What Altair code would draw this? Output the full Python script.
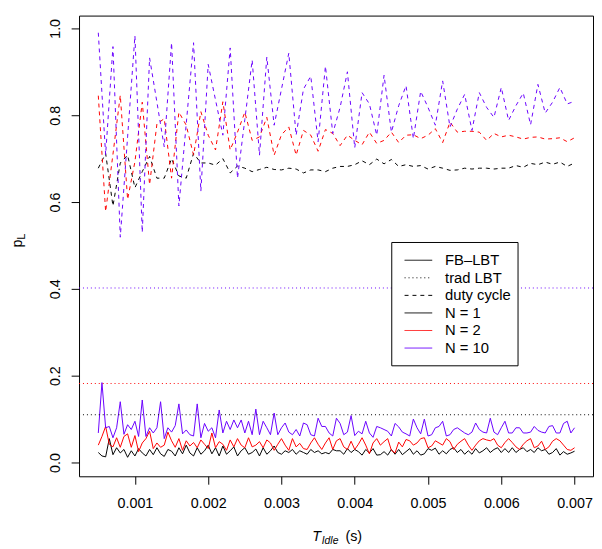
import altair as alt
import pandas as pd

# ---------------- data ----------------
# duty-cycle curves, sampled every 0.1 ms (values in microseconds)
T_DC_US = [500, 600, 700, 800, 900, 1000, 1100, 1200, 1300, 1400,
           1500, 1600, 1700, 1800, 1900, 2000, 2100, 2200, 2300, 2400,
           2500, 2600, 2700, 2800, 2900, 3000, 3100, 3200, 3300, 3400,
           3500, 3600, 3700, 3800, 3900, 4000, 4100, 4200, 4300, 4400,
           4500, 4600, 4700, 4800, 4900, 5000, 5100, 5200, 5300, 5400,
           5500, 5600, 5700, 5800, 5900, 6000, 6100, 6200, 6300, 6400,
           6500, 6600, 6700, 6800, 6900, 7000]

DC_N1 = [0.678, 0.712, 0.591, 0.690, 0.708, 0.633, 0.670, 0.705, 0.655, 0.655,
         0.700, 0.660, 0.655, 0.712, 0.690, 0.690, 0.685, 0.700, 0.667, 0.683,
         0.678, 0.670, 0.675, 0.680, 0.675, 0.674, 0.678, 0.676, 0.667, 0.674,
         0.674, 0.670, 0.678, 0.682, 0.682, 0.686, 0.695, 0.686, 0.699, 0.688,
         0.698, 0.682, 0.686, 0.682, 0.684, 0.676, 0.682, 0.678, 0.673, 0.674,
         0.678, 0.676, 0.678, 0.678, 0.676, 0.678, 0.678, 0.684, 0.680, 0.689,
         0.686, 0.692, 0.687, 0.692, 0.682, 0.690]

DC_N2 = [0.845, 0.578, 0.710, 0.846, 0.606, 0.693, 0.830, 0.640, 0.780, 0.792,
         0.655, 0.807, 0.777, 0.708, 0.808, 0.754, 0.720, 0.831, 0.720, 0.761,
         0.807, 0.742, 0.750, 0.795, 0.708, 0.755, 0.773, 0.708, 0.765, 0.754,
         0.717, 0.767, 0.758, 0.730, 0.754, 0.742, 0.732, 0.761, 0.735, 0.742,
         0.761, 0.737, 0.754, 0.755, 0.746, 0.754, 0.769, 0.737, 0.784, 0.761,
         0.763, 0.763, 0.761, 0.742, 0.758, 0.750, 0.754, 0.750, 0.745, 0.749,
         0.750, 0.745, 0.746, 0.748, 0.739, 0.748]

DC_N10 = [0.990, 0.709, 0.958, 0.519, 0.750, 0.983, 0.530, 0.932, 0.830, 0.727,
          0.967, 0.591, 0.780, 0.967, 0.625, 0.917, 0.835, 0.754, 0.955, 0.655,
          0.790, 0.927, 0.708, 0.934, 0.777, 0.860, 0.943, 0.754, 0.860, 0.890,
          0.739, 0.913, 0.758, 0.818, 0.900, 0.725, 0.852, 0.826, 0.754, 0.892,
          0.761, 0.822, 0.868, 0.746, 0.855, 0.818, 0.777, 0.879, 0.773, 0.814,
          0.848, 0.765, 0.852, 0.818, 0.795, 0.864, 0.788, 0.822, 0.851, 0.778,
          0.871, 0.805, 0.830, 0.864, 0.826, 0.832]

# FB-LBT curves, sampled every 0.05 ms (values in microseconds)
T_FB_US = [500, 550, 600, 650, 700, 750, 800, 850, 900, 950,
           1000, 1050, 1100, 1150, 1200, 1250, 1300, 1350, 1400, 1450,
           1500, 1550, 1600, 1650, 1700, 1750, 1800, 1850, 1900, 1950,
           2000, 2050, 2100, 2150, 2200, 2250, 2300, 2350, 2400, 2450,
           2500, 2550, 2600, 2650, 2700, 2750, 2800, 2850, 2900, 2950,
           3000, 3050, 3100, 3150, 3200, 3250, 3300, 3350, 3400, 3450,
           3500, 3550, 3600, 3650, 3700, 3750, 3800, 3850, 3900, 3950,
           4000, 4050, 4100, 4150, 4200, 4250, 4300, 4350, 4400, 4450,
           4500, 4550, 4600, 4650, 4700, 4750, 4800, 4850, 4900, 4950,
           5000, 5050, 5100, 5150, 5200, 5250, 5300, 5350, 5400, 5450,
           5500, 5550, 5600, 5650, 5700, 5750, 5800, 5850, 5900, 5950,
           6000, 6050, 6100, 6150, 6200, 6250, 6300, 6350, 6400, 6450,
           6500, 6550, 6600, 6650, 6700, 6750, 6800, 6850, 6900, 6950,
           7000]

FB_N1 = [0.023, 0.015, 0.013, 0.055, 0.018, 0.034, 0.022, 0.030, 0.012, 0.027,
         0.015, 0.032, 0.022, 0.015, 0.030, 0.018, 0.034, 0.020, 0.014, 0.030,
         0.026, 0.015, 0.034, 0.020, 0.040, 0.022, 0.015, 0.034, 0.019, 0.027,
         0.040, 0.020, 0.034, 0.015, 0.038, 0.019, 0.027, 0.036, 0.015, 0.027,
         0.034, 0.019, 0.023, 0.031, 0.015, 0.034, 0.019, 0.027, 0.038, 0.023,
         0.019, 0.027, 0.023, 0.030, 0.019, 0.027, 0.023, 0.019, 0.030, 0.023,
         0.027, 0.020, 0.023, 0.020, 0.030, 0.027, 0.027, 0.019, 0.032, 0.023,
         0.030, 0.025, 0.017, 0.030, 0.022, 0.032, 0.017, 0.018, 0.025, 0.017,
         0.030, 0.019, 0.030, 0.018, 0.025, 0.032, 0.019, 0.027, 0.017, 0.020,
         0.032, 0.028, 0.033, 0.019, 0.027, 0.020, 0.030, 0.034, 0.023, 0.030,
         0.019, 0.027, 0.019, 0.032, 0.022, 0.027, 0.034, 0.023, 0.030, 0.034,
         0.023, 0.032, 0.023, 0.034, 0.023, 0.030, 0.034, 0.025, 0.030, 0.023,
         0.034, 0.027, 0.030, 0.019, 0.023, 0.032, 0.017, 0.025, 0.019, 0.022,
         0.026]

FB_N2 = [0.040, 0.060, 0.083, 0.042, 0.036, 0.057, 0.035, 0.060, 0.066, 0.035,
         0.062, 0.025, 0.045, 0.055, 0.072, 0.032, 0.045, 0.035, 0.040, 0.070,
         0.050, 0.035, 0.055, 0.028, 0.050, 0.038, 0.046, 0.034, 0.052, 0.042,
         0.032, 0.068, 0.034, 0.048, 0.042, 0.028, 0.052, 0.036, 0.055, 0.040,
         0.034, 0.057, 0.036, 0.040, 0.048, 0.034, 0.052, 0.045, 0.028, 0.042,
         0.055, 0.040, 0.028, 0.055, 0.036, 0.044, 0.032, 0.030, 0.045, 0.057,
         0.042, 0.030, 0.045, 0.057, 0.030, 0.050, 0.055, 0.036, 0.030, 0.049,
         0.030, 0.042, 0.057, 0.040, 0.020, 0.045, 0.055, 0.040, 0.048, 0.055,
         0.028, 0.022, 0.047, 0.036, 0.053, 0.050, 0.040, 0.045, 0.055, 0.057,
         0.034, 0.038, 0.050, 0.045, 0.040, 0.055, 0.048, 0.030, 0.042, 0.049,
         0.055, 0.040, 0.028, 0.040, 0.050, 0.055, 0.052, 0.050, 0.055, 0.040,
         0.034, 0.046, 0.055, 0.046, 0.036, 0.030, 0.042, 0.050, 0.055, 0.034,
         0.038, 0.049, 0.030, 0.036, 0.049, 0.055, 0.050, 0.040, 0.030, 0.028,
         0.034]

FB_N10 = [0.068, 0.184, 0.080, 0.083, 0.057, 0.080, 0.140, 0.065, 0.087, 0.076,
          0.095, 0.060, 0.144, 0.060, 0.080, 0.068, 0.080, 0.140, 0.055, 0.080,
          0.070, 0.085, 0.135, 0.066, 0.075, 0.064, 0.061, 0.135, 0.057, 0.090,
          0.072, 0.080, 0.057, 0.121, 0.068, 0.095, 0.076, 0.098, 0.080, 0.098,
          0.068, 0.095, 0.064, 0.123, 0.064, 0.095, 0.080, 0.064, 0.114, 0.064,
          0.080, 0.091, 0.070, 0.064, 0.076, 0.061, 0.091, 0.087, 0.064, 0.061,
          0.102, 0.083, 0.083, 0.068, 0.061, 0.102, 0.090, 0.064, 0.070, 0.108,
          0.062, 0.072, 0.066, 0.095, 0.068, 0.058, 0.083, 0.080, 0.076, 0.072,
          0.061, 0.090, 0.082, 0.070, 0.066, 0.061, 0.100, 0.080, 0.066, 0.100,
          0.061, 0.064, 0.080, 0.083, 0.095, 0.061, 0.064, 0.076, 0.080, 0.074,
          0.068, 0.064, 0.070, 0.091, 0.076, 0.070, 0.068, 0.102, 0.070, 0.064,
          0.080, 0.095, 0.068, 0.068, 0.080, 0.080, 0.068, 0.068, 0.070, 0.083,
          0.074, 0.070, 0.068, 0.083, 0.085, 0.068, 0.068, 0.090, 0.095, 0.068,
          0.080]

# traditional LBT (constant) for N = 1, 2, 10
TRAD = [0.110, 0.182, 0.402]

N_KEYS = ["1", "2", "10"]
COLORS = ["#000000", "#FF0000", "#6A00FF"]

X_TICKS = [0.001, 0.002, 0.003, 0.004, 0.005, 0.006, 0.007]
Y_TICKS = [0.0, 0.2, 0.4, 0.6, 0.8, 1.0]

LEGEND_LABELS = ["FB\u2013LBT", "trad LBT", "duty cycle", "N = 1", "N = 2", "N = 10"]
LEGEND_COLORS = ["#000000", "#000000", "#000000", "#000000", "#FF0000", "#6A00FF"]
LEGEND_DASH = [[1, 0], [1, 3], [4, 4], [1, 0], [1, 0], [1, 0]]

# ---------------- tables ----------------
fb_rows, dc_rows = [], []
for key, ys in zip(N_KEYS, [FB_N1, FB_N2, FB_N10]):
    for t, v in zip(T_FB_US, ys):
        fb_rows.append({"t": t / 1e6, "p": v, "N": key})
for key, ys in zip(N_KEYS, [DC_N1, DC_N2, DC_N10]):
    for t, v in zip(T_DC_US, ys):
        dc_rows.append({"t": t / 1e6, "p": v, "N": key})
fb_df = pd.DataFrame(fb_rows)
dc_df = pd.DataFrame(dc_rows)
trad_df = pd.DataFrame({"p": TRAD, "N": N_KEYS})

FONT = "Liberation Sans"
FS = 14.5

xscale = alt.Scale(domain=[0.000237, 0.007252], nice=False, zero=False)
yscale = alt.Scale(domain=[-0.0318, 1.0295], nice=False, zero=False)
cscale = alt.Scale(domain=N_KEYS, range=COLORS)

xaxis = alt.Axis(values=X_TICKS, format=".3f", title=None, grid=False, domain=False,
                 tickSize=8, tickColor="black", labelColor="black", labelFont=FONT,
                 labelFontSize=FS, labelPadding=13, labelFlush=False, labelOverlap=False)
yaxis = alt.Axis(values=Y_TICKS, format=".1f", title=None, grid=False, domain=False,
                 tickSize=8, tickColor="black", labelColor="black", labelFont=FONT,
                 labelFontSize=FS, labelAngle=270, labelAlign="center",
                 labelBaseline="bottom", labelPadding=9, labelFlush=False,
                 labelOverlap=False)

fb = alt.Chart(fb_df).mark_line(strokeWidth=1, clip=True).encode(
    x=alt.X("t:Q", scale=xscale, axis=xaxis),
    y=alt.Y("p:Q", scale=yscale, axis=yaxis),
    color=alt.Color("N:N", scale=cscale, legend=None),
    detail="N:N",
)

trad = alt.Chart(trad_df).mark_rule(strokeWidth=1, strokeDash=[1, 3]).encode(
    y=alt.Y("p:Q", scale=yscale, axis=yaxis),
    color=alt.Color("N:N", scale=cscale, legend=None),
)

dc = alt.Chart(dc_df).mark_line(strokeWidth=1, strokeDash=[4, 4], clip=True).encode(
    x=alt.X("t:Q", scale=xscale, axis=xaxis),
    y=alt.Y("p:Q", scale=yscale, axis=yaxis),
    color=alt.Color("N:N", scale=cscale, legend=None),
    detail="N:N",
)

one = pd.DataFrame({"k": [0]})

# legend box
layers = [fb, trad, dc]
layers.append(
    alt.Chart(one).mark_rect(fill="white", stroke="black", strokeWidth=1).encode(
        x=alt.value(317), x2=alt.value(445), y=alt.value(230), y2=alt.value(355)
    )
)
LEG_Y0, LEG_DY = 248, 17.8
for i, (lab, col, dash) in enumerate(zip(LEGEND_LABELS, LEGEND_COLORS, LEGEND_DASH)):
    yy = LEG_Y0 + i * LEG_DY
    layers.append(
        alt.Chart(one).mark_rule(color=col, strokeWidth=1, strokeDash=dash).encode(
            x=alt.value(330), x2=alt.value(358), y=alt.value(yy)
        )
    )
    layers.append(
        alt.Chart(one).mark_text(text=lab, font=FONT, fontSize=15, align="left",
                                 baseline="middle", color="black").encode(
            x=alt.value(371), y=alt.value(yy)
        )
    )

# axis titles as text (italic T with subscript, p with subscript L)
layers += [
    alt.Chart(one).mark_text(text="T", font=FONT, fontSize=FS, fontStyle="italic",
                             align="left", baseline="alphabetic", color="black").encode(
        x=alt.value(236.5), y=alt.value(533)),
    alt.Chart(one).mark_text(text="Idle", font=FONT, fontSize=10.5, fontStyle="italic",
                             align="left", baseline="alphabetic", color="black").encode(
        x=alt.value(246), y=alt.value(536)),
    alt.Chart(one).mark_text(text="(s)", font=FONT, fontSize=FS,
                             align="left", baseline="alphabetic", color="black").encode(
        x=alt.value(270), y=alt.value(533)),
    alt.Chart(one).mark_text(text="p", font=FONT, fontSize=FS, angle=270,
                             align="left", baseline="alphabetic", color="black").encode(
        x=alt.value(-58), y=alt.value(235)),
    alt.Chart(one).mark_text(text="L", font=FONT, fontSize=10.5, angle=270,
                             align="left", baseline="alphabetic", color="black").encode(
        x=alt.value(-55), y=alt.value(227)),
]

chart = alt.layer(*layers).properties(
    width=521, height=467,
    autosize=alt.AutoSizeParams(type="none"),
    padding={"left": 72, "top": 4, "right": 1, "bottom": 70},
    background="white",
).configure_view(stroke="black", strokeWidth=1)

chart.save("out.html", embed_options={"renderer": "svg", "actions": False})
